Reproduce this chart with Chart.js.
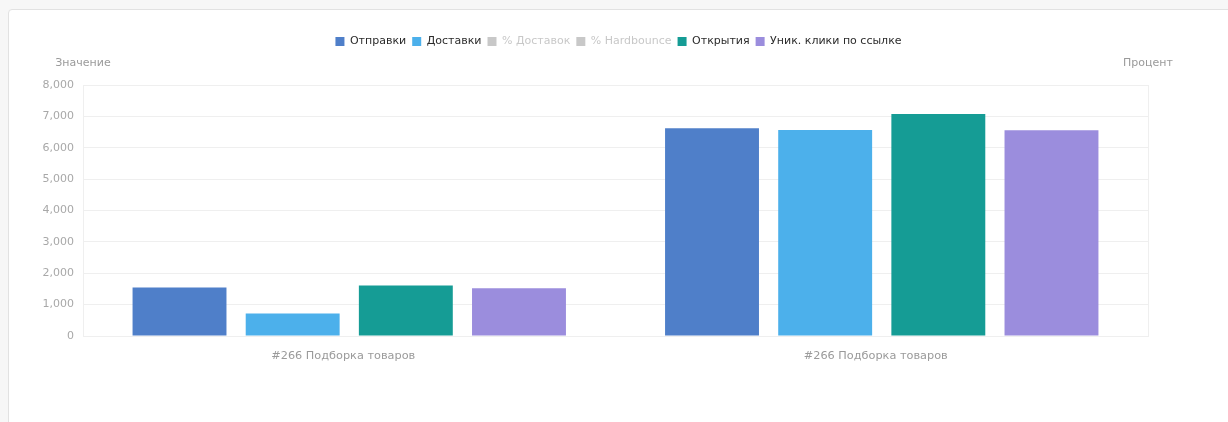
<!DOCTYPE html>
<html lang="ru">
<head>
<meta charset="utf-8">
<title>Рассылки</title>
<script src="https://cdn.jsdelivr.net/npm/chart.js@4/dist/chart.umd.min.js"></script>
<style>
  html, body { margin: 0; padding: 0; background: #f7f7f7; overflow: hidden; }
  .card {
    position: absolute; left: 8px; top: 9px; width: 1240px; height: 440px;
    background: #fff; border: 1px solid #e2e2e2; border-radius: 4px;
  }
  #chart { position: absolute; left: 0; top: 0; }
</style>
</head>
<body>
<div class="card"><canvas id="chart" width="1219" height="412"></canvas></div>
<script>
// Categories and series
const categories = ['#266 Подборка товаров', '#266 Подборка товаров'];
const sent = [1546, 6619];
const delivered = [720, 6565];
const deliveredPct = [46.6, 99.2];
const hardbouncePct = [0.4, 0.3];
const opened = [1610, 7073];
const uniqueClicks = [1524, 6556];

const yTicksMax = 8000;
const yTicksStep = 1000;
const leftAxisTitle = 'Значение';
const rightAxisTitle = 'Процент';

const FONT = '"DejaVu Sans", Verdana, sans-serif';
const HIDDEN_GREY = '#c8c8c8';

// Extra room between the legend and the plot, where the axis titles sit
const legendGap = {
  id: 'legendGap',
  beforeInit(chart) {
    const fit = chart.legend.fit;
    chart.legend.fit = function () {
      fit.call(this);
      this.height += 28;
    };
  }
};

// Horizontal axis titles above both y axes
const axisTitles = {
  id: 'axisTitles',
  afterDraw(chart) {
    const { ctx, chartArea } = chart;
    ctx.save();
    ctx.font = '11px ' + FONT;
    ctx.fillStyle = '#9a9a9a';
    ctx.textAlign = 'center';
    ctx.textBaseline = 'middle';
    ctx.fillText(leftAxisTitle, chartArea.left, chartArea.top - 22);
    ctx.fillText(rightAxisTitle, chartArea.right, chartArea.top - 22);
    ctx.restore();
  }
};

new Chart(document.getElementById('chart'), {
  type: 'bar',
  data: {
    labels: categories,
    datasets: [
      { label: 'Отправки', data: sent, backgroundColor: '#4f7fc9', yAxisID: 'y' },
      { label: 'Доставки', data: delivered, backgroundColor: '#4cb0eb', yAxisID: 'y' },
      { label: '% Доставок', data: deliveredPct, backgroundColor: HIDDEN_GREY, yAxisID: 'y1', hidden: true },
      { label: '% Hardbounce', data: hardbouncePct, backgroundColor: HIDDEN_GREY, yAxisID: 'y1', hidden: true },
      { label: 'Открытия', data: opened, backgroundColor: '#159c95', yAxisID: 'y' },
      { label: 'Уник. клики по ссылке', data: uniqueClicks, backgroundColor: '#9b8ddd', yAxisID: 'y' }
    ]
  },
  options: {
    responsive: false,
    animation: false,
    devicePixelRatio: 1,
    categoryPercentage: 0.85,
    barPercentage: 0.83,
    layout: { padding: { top: 20, bottom: 0, left: 0, right: 0 } },
    plugins: {
      tooltip: { enabled: false },
      legend: {
        position: 'top',
        labels: {
          boxWidth: 9,
          boxHeight: 9,
          useBorderRadius: true,
          borderRadius: 2,
          padding: 6,
          font: { family: FONT, size: 11 },
          generateLabels(chart) {
            return chart.data.datasets.map((ds, i) => {
              const visible = chart.isDatasetVisible(i);
              return {
                text: ds.label,
                fillStyle: visible ? ds.backgroundColor : HIDDEN_GREY,
                strokeStyle: visible ? ds.backgroundColor : HIDDEN_GREY,
                lineWidth: 0,
                fontColor: visible ? '#2b2b2b' : HIDDEN_GREY,
                hidden: false,
                datasetIndex: i
              };
            });
          }
        }
      }
    },
    scales: {
      x: {
        grid: { display: false, drawTicks: false },
        border: { display: false },
        ticks: { color: '#9a9a9a', padding: 13, labelOffset: -6, font: { family: FONT, size: 11.3 } },
        afterFit(scale) { scale.height = 86; }
      },
      y: {
        position: 'left',
        min: 0,
        max: yTicksMax,
        ticks: { stepSize: yTicksStep, color: '#a8a8a8', padding: 9, font: { family: FONT, size: 11 } },
        grid: { color: '#efefef', drawTicks: false },
        border: { color: '#efefef' },
        afterFit(scale) { scale.width = 74; }
      },
      y1: {
        position: 'right',
        min: 0,
        max: 100,
        ticks: { display: false },
        grid: { drawOnChartArea: false, drawTicks: false },
        border: { color: '#efefef' },
        afterFit(scale) { scale.width = 80; }
      }
    }
  },
  plugins: [legendGap, axisTitles]
});
</script>
</body>
</html>
